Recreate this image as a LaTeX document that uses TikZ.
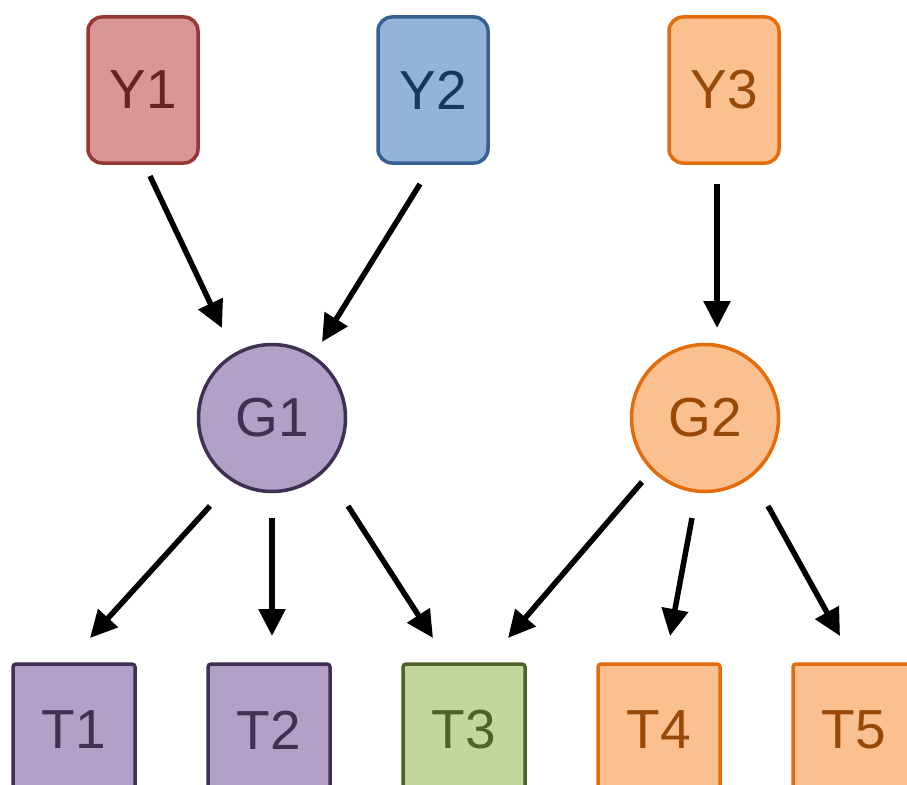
\documentclass[tikz,border=0pt]{standalone}
\usepackage{fontspec}
\setmainfont{Liberation Sans}
\usetikzlibrary{arrows.meta,calc}
\definecolor{redfill}{HTML}{D99694}
\definecolor{redline}{HTML}{953735}
\definecolor{redtext}{HTML}{632523}
\definecolor{bluefill}{HTML}{95B3D7}
\definecolor{blueline}{HTML}{376092}
\definecolor{bluetext}{HTML}{17375E}
\definecolor{orfill}{HTML}{FAC090}
\definecolor{orline}{HTML}{E46C0A}
\definecolor{ortext}{HTML}{984807}
\definecolor{purfill}{HTML}{B2A1C7}
\definecolor{purline}{HTML}{403152}
\definecolor{grfill}{HTML}{C3D69B}
\definecolor{grline}{HTML}{4F6228}
\begin{document}
\begin{tikzpicture}[x=1pt,y=-1pt,
  lbl/.style={font=\fontsize{55}{60}\selectfont, inner sep=0pt, line width=3.5pt},
  ybox/.style={lbl, rectangle, rounded corners=14pt, minimum width=110pt, minimum height=146pt},
  gcirc/.style={lbl, circle, minimum size=147pt},
  tbox/.style={lbl, rectangle, rounded corners=3pt, minimum width=122pt, minimum height=132pt},
  red/.style={fill=redfill, draw=redline, text=redtext},
  blue/.style={fill=bluefill, draw=blueline, text=bluetext},
  orange/.style={fill=orfill, draw=orline, text=ortext},
  purple/.style={fill=purfill, draw=purline, text=purline},
  green/.style={fill=grfill, draw=grline, text=grline},
  link/.style={line width=5.5pt, -{Triangle[length=27pt,width=26pt]}}]
\useasboundingbox (0,0) rectangle (907,784);

% parent nodes
\node[ybox, red]    (Y1) at (143,90) {Y1};
\node[ybox, blue]   (Y2) at (433,90) {Y2};
\node[ybox, orange] (Y3) at (724,90) {Y3};

% middle nodes
\node[gcirc, purple] (G1) at (272,418) {G1};
\node[gcirc, orange] (G2) at (705,418) {G2};

% leaf nodes
\node[tbox, purple] (T1) at (74,730)  {T1};
\node[tbox, purple] (T2) at (269,730) {T2};
\node[tbox, green]  (T3) at (464,730) {T3};
\node[tbox, orange] (T4) at (659,730) {T4};
\node[tbox, orange] (T5) at (854,730) {T5};

% connectors
\draw[link] ($(Y1)+(7,86)$)   -- ($(G1)+(-50,-90)$);
\draw[link] ($(Y2)+(-13,94)$) -- ($(G1)+(50,-76)$);
\draw[link] ($(Y3)+(-7,94)$)  -- ($(G2)+(12,-90)$);
\draw[link] ($(G1)+(-62,88)$) -- ($(T1)+(16,-92)$);
\draw[link] ($(G1)+(0,100)$)  -- ($(T2)+(3,-94)$);
\draw[link] ($(G1)+(76,88)$)  -- ($(T3)+(-31,-92)$);
\draw[link] ($(G2)+(-63,64)$) -- ($(T3)+(44,-92)$);
\draw[link] ($(G2)+(-13,100)$) -- ($(T4)+(11,-94)$);
\draw[link] ($(G2)+(63,88)$)  -- ($(T5)+(-14,-94)$);
\end{tikzpicture}
\end{document}
